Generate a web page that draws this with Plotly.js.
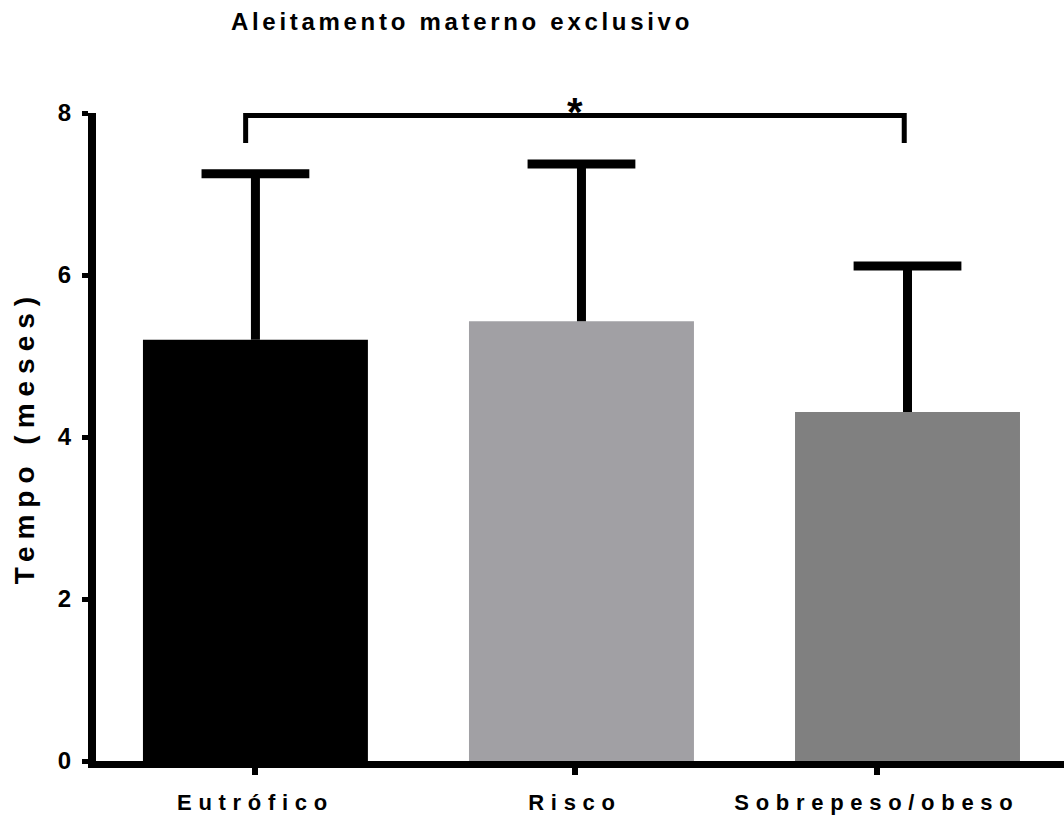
<!DOCTYPE html>
<html>
<head>
<meta charset="utf-8">
<script src="https://cdn.plot.ly/plotly-3.0.1.min.js"></script>
<style>
  html, body { margin: 0; padding: 0; background: #ffffff; }
  #chart { width: 1064px; height: 816px; }
  .gtitle { letter-spacing: 3.7px; }
  .ytitle { letter-spacing: 7px; }
  .xtick text { letter-spacing: 6.7px; }
</style>
</head>
<body>
<div id="chart"></div>
<script>
// ---- data ----
const categories = ["Eutrófico", "Risco", "Sobrepeso/obeso"];
const means = [5.20, 5.43, 4.31];
const sdUpper = [2.05, 1.94, 1.80];
const barColors = ["#000000", "#a1a0a4", "#808080"];
const yTicks = [0, 2, 4, 6, 8];
const significance = "*";
const compareFrom = 0;   // index of first compared group
const compareTo = 2;     // index of second compared group

// ---- layout constants ----
const FONT = "Liberation Sans, Arial, Helvetica, sans-serif";
const xIdx = categories.map((c, i) => i);
const tickPos = [0, 0.98, 1.906];           // tick marks in the original sit slightly left of bar centres
const bracketY = 7.97, bracketDrop = 7.63;
const bx0 = compareFrom - 0.03, bx1 = compareTo - 0.01;

const bars = {
  type: "bar",
  x: xIdx,
  y: means,
  width: 0.69,
  marker: { color: barColors, line: { width: 0 } },
  error_y: {
    type: "data",
    symmetric: false,
    array: sdUpper,
    arrayminus: means.map(() => 0),
    color: "#000000",
    thickness: 9,
    width: 0
  },
  hoverinfo: "none"
};

// caps of the (upper-only) error bars
const caps = {
  type: "scatter",
  mode: "markers",
  x: xIdx,
  y: means.map((m, i) => m + sdUpper[i]),
  marker: {
    symbol: "line-ew",
    size: 77,
    color: "#000000",
    line: { color: "#000000", width: 9 }
  },
  cliponaxis: false,
  hoverinfo: "none"
};

const layout = {
  width: 1064,
  height: 816,
  paper_bgcolor: "#ffffff",
  plot_bgcolor: "#ffffff",
  margin: { l: 96, r: 0, t: 113, b: 55, pad: 0 },
  showlegend: false,
  font: { family: FONT, color: "#000000" },
  title: {
    text: "Aleitamento materno exclusivo",
    font: { family: FONT, size: 24, weight: "bold", color: "#000000" },
    xref: "container", x: 462 / 1064, xanchor: "center",
    yref: "container", y: 1 - 22 / 816, yanchor: "middle"
  },
  xaxis: {
    range: [-0.489, 2.48],
    tickmode: "array",
    tickvals: tickPos,
    ticktext: categories,
    showgrid: false,
    zeroline: false,
    showline: true,
    linecolor: "#000000",
    linewidth: 7,
    ticks: "outside",
    ticklen: 7,
    tickwidth: 6,
    tickcolor: "#000000",
    ticklabelstandoff: 9,
    tickfont: { family: FONT, size: 22, weight: "bold", color: "#000000" },
    fixedrange: true
  },
  yaxis: {
    range: [0, 8],
    tickmode: "array",
    tickvals: yTicks,
    ticktext: yTicks.map(String),
    showgrid: false,
    zeroline: false,
    showline: true,
    linecolor: "#000000",
    linewidth: 8,
    ticks: "outside",
    ticklen: 6,
    tickwidth: 5,
    tickcolor: "#000000",
    ticklabelstandoff: 6,
    tickfont: { family: FONT, size: 24, weight: "bold", color: "#000000" },
    title: {
      text: "Tempo (meses)",
      font: { family: FONT, size: 28, weight: "bold", color: "#000000" },
      standoff: 18
    },
    fixedrange: true
  },
  shapes: [
    {
      type: "path",
      xref: "x", yref: "y",
      path: `M ${bx0},${bracketDrop} L ${bx0},${bracketY} L ${bx1},${bracketY} L ${bx1},${bracketDrop}`,
      line: { color: "#000000", width: 5 },
      layer: "above"
    }
  ],
  annotations: [
    {
      xref: "x", yref: "y",
      x: (bx0 + bx1) / 2, y: bracketY,
      text: significance,
      showarrow: false,
      xanchor: "center", yanchor: "bottom",
      yshift: -21,
      font: { family: FONT, size: 40, weight: "bold", color: "#000000" }
    }
  ]
};

Plotly.newPlot("chart", [bars, caps], layout, { displayModeBar: false, staticPlot: true });
</script>
</body>
</html>
